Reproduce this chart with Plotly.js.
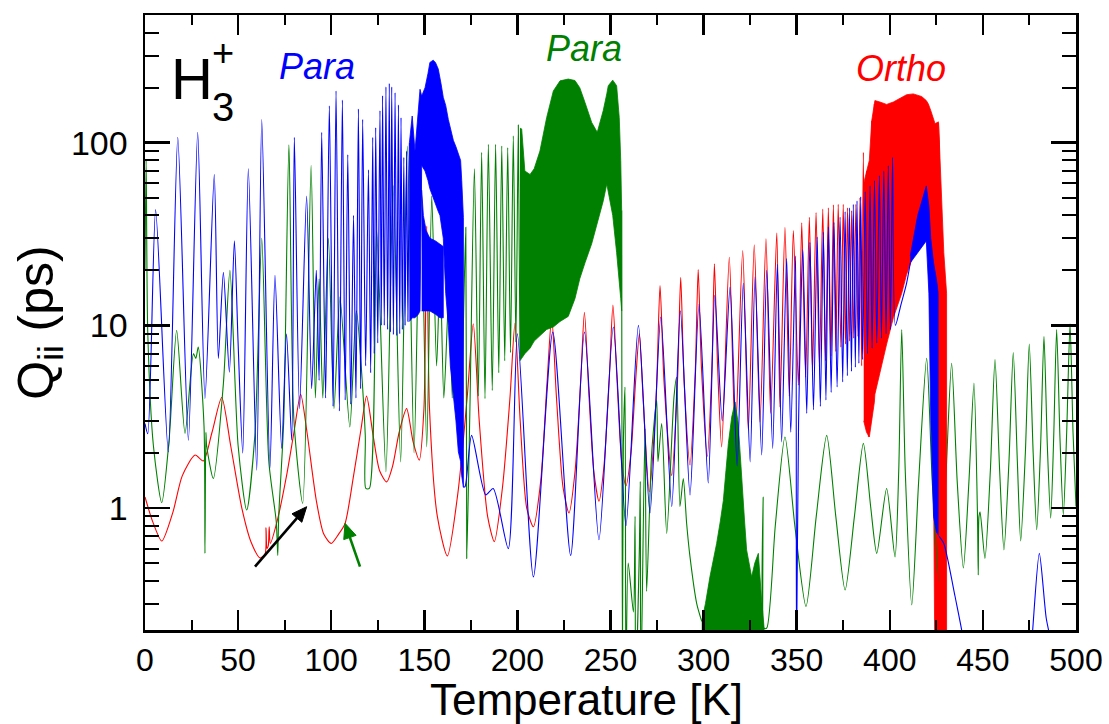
<!DOCTYPE html>
<html><head><meta charset="utf-8">
<script src="https://cdn.plot.ly/plotly-3.0.1.min.js"></script>
<style>html,body{margin:0;padding:0;background:#fff;} #chart{width:1109px;height:724px;}</style>
</head><body><div id="chart"></div>
<script>
// ---------- DATA (T in K, Q in ps) ----------
const redLine = [[0,1.15],[4,0.85],[9,0.66],[15,0.95],[20,1.5],[26.9,1.95],[31.3,1.81],[36,2.6],[41.2,4.03],[46,2.2],[52,1.0],[57,0.65],[61.8,0.533],[64.5,0.56],[65.0,0.78],[65.5,0.6],[66.2,0.62],[66.7,0.79],[67.3,0.64],[71,0.85],[76,1.5],[80,2.6],[83.6,4.2],[87,2.6],[92,1.1],[96,0.72],[100,0.64],[104,0.72],[107.4,0.82],[112,1.5],[116,2.7],[119,4.1],[122.5,2.5],[126,1.6],[129.8,1.39],[133,1.7],[136.5,2.6],[140.5,3.5],[144,2.3],[147.3,1.83],[149.8,3.5],[151.3,35],[152.8,3.5],[157,0.9],[162.4,0.547],[168,1.2],[173,4],[176.3,10.2],[179.5,3],[184,0.9],[187.6,0.655],[192,1.3],[196,4],[198.7,10.3],[201.5,3],[205,1.0],[208.6,0.79],[212.5,1.4],[216,5],[218.4,11.1],[221,4],[224.5,1.3],[227.7,0.94],[231,1.6],[234,5],[236,11.8],[238.5,4],[241,1.6],[243.8,1.09],[246.5,1.7],[249.3,5],[251.3,12.9],[253.5,5],[256,1.8],[258.3,1.32],[261,2],[263.5,5],[265.5,9],[267.5,4],[270.8,1.23],[274.5,4],[276.6,16.5],[278.7,5],[282.9,1.51],[286,5],[287.7,18.3],[289.5,5],[292.7,1.72],[295.5,5.5],[297.1,20.2],[298.8,6],[302,1.92],[304.5,6],[305.8,21.7],[307.5,6],[309.7,2.16],[313.8,23.6],[317,2.4],[321,25.7],[324,2.67],[327.2,27.6],[330.3,2.96],[333.5,29.8],[336,3.3],[339.3,32],[341,3.58],[343.7,34.4],[346,4.1],[348.2,33],[350.9,4.7],[352.7,36.4],[354.8,5.2],[356.8,39],[358.5,5.6],[360.4,41.5],[362.2,6.0],[364,43.3],[365.5,6.4],[367,44],[368.4,6.8],[369.7,45.7],[371,7.2],[372.3,46],[373.7,7.6],[375,46],[376.2,7.9],[377.3,44],[378.4,8.2],[379.5,42.5],[380.6,8.5],[381.8,46],[382.9,8.7],[384,50],[384.9,6],[385.8,88.6],[386.7,3.0],[387.5,70],[388.5,2.45],[389.4,80],[389.9,3],[390.3,132],[391,3.8],[391.7,163]];
// dense ortho band: [T, upper envelope, lower envelope]
const redBand = [[386,60,3.0],[387.5,70,2.6],[389,80,2.45],[390.3,132,3],[391.7,165,3.8],[392,170,4.2],[394.7,167,5.5],[398.3,162,7.9],[401.9,167,11],[406.4,178,15],[409,183,19],[412.6,185,24],[417.1,179,28],[419.6,170,30],[420.7,163,25],[422,150,8],[423.4,137,2],[424.3,127,0.1],[426.1,130,0.1],[426.6,98,0.1]];
const redEdge = [[426.2,128,0.1],[426.6,98,0.1],[427.3,76,0.1],[427.9,40,0.1],[429,25,0.1],[430.5,15,0.1]];

const greenLine1 = [[0,20],[0.6,80],[1.5,9],[4.5,2.2],[9,1.07],[13,2.4],[17,9.4],[21.5,2.56],[26,7.0],[27.3,6.6],[28.6,7.6],[31.7,2.8],[32.2,0.565],[32.7,2.6],[33.1,2.2],[36.7,1.45],[42.1,4.8],[45.6,20],[50,2.2],[54.6,0.975],[59,2.5],[62.7,30],[66.5,1.8],[70.5,0.84],[71.3,0.55],[71.8,0.9],[74.5,3],[77.3,97.5],[80,3],[84.7,1.06],[89.2,75],[91.5,4],[93.5,18],[95.5,4],[98.5,30],[101.5,3.5],[104.7,14.3],[110,2.78],[113.5,12],[118.3,2.5],[118.6,1.28],[120.5,1.28],[124.4,33],[129.4,1.58],[133.3,58],[137.3,1.79],[140.9,96],[144.5,2.0],[148,75],[151.3,2.16],[154,51],[156.6,6.0],[158.5,20],[160.5,4],[163.4,16.9],[165,4],[167,28.5],[169.5,3],[172.3,34.4],[172.8,0.53],[174.5,3.5],[176.9,72],[179,4.1],[180.8,88.5],[182.6,3.97],[184.4,98],[186.5,4.4],[188.3,98],[190,5.5],[191.6,96],[193.2,6.4],[194.8,94],[196.3,7.1],[197.8,109],[199.2,8.1],[200.5,125],[201.4,7]];
const greenBand = [[201.4,120,6.4],[202.3,119,6.6],[204,70,7],[206.8,67,7.5],[209,72,8.2],[212.1,90,8.8],[215.7,137,9.5],[219.3,192,9.8],[222.9,218,10.5],[227.3,223,11.2],[230.9,219,14],[233.5,200,18],[236.3,166,22],[239.9,129,28],[242.9,114,36],[246.1,150,48],[248,185,59.4],[248.8,205,55],[251.2,220,40],[253.3,205,25],[254.7,137,18],[255.5,80,14],[256,42.6,12]];
const greenLine2 = [[256,42.6],[256.4,0.1],[256.9,2.2],[257.8,4.6],[258.3,0.1],[259.5,0.5],[262.3,0.27],[263.2,0.9],[263.5,0.1],[265.5,0.6],[266,1.4],[266.3,0.1],[268.5,2.72],[269.4,0.35],[272.1,1.99],[274.8,3.9],[275.5,1.8],[277.5,2.9],[280.2,0.727],[284.1,4.06],[285.5,5.2],[287.3,1.02],[289.1,1.45],[290.9,0.82],[292.7,0.54],[296.3,0.30],[299,0.24]];
const greenBlob = [[299,0.24,0.1],[301,0.3,0.1],[303.4,0.42,0.1],[305,0.5,0.1],[307,0.64,0.1],[309,0.85,0.1],[310.6,1.1,0.1],[312,1.6,0.1],[313.3,2.26,0.1],[315.1,3.15,0.1],[316.9,3.81,0.1],[318.6,2.9,0.1],[320.4,1.42,0.1],[322,0.85,0.1],[323.1,0.59,0.1],[325.8,0.42,0.1],[327.5,0.5,0.1],[329.4,0.565,0.1],[331,0.33,0.1],[332.5,0.22,0.1]];
const greenLine3 = [[331.6,0.1],[332,1.15],[332.4,0.22],[333.9,0.22],[338.5,0.8],[343.7,2.45],[349,0.8],[355,0.289],[360.5,0.9],[366.1,2.5],[371,0.9],[376,0.356],[381,0.9],[385.8,2.26],[389.8,1.0],[393,0.565],[398.3,1.28],[402.8,0.54],[404.8,1.6],[406.4,9.5],[408.3,1.6],[411.8,0.295],[415.5,1.4],[419.8,6.6],[422.8,1.4],[426.6,0.39],[430,1.4],[433.2,6.2],[436.2,1.4],[439.5,0.47],[442.5,1.4],[445.2,4.83],[447.1,0.9],[447.5,0.43],[447.9,0.9],[448.5,0.95],[451.1,0.53],[454,1.6],[456.5,6.5],[459,1.6],[461.3,0.59],[464,1.8],[466.3,7.1],[468.5,1.8],[470.3,0.66],[472.8,2],[474.9,7.9],[477,2],[478.9,0.76],[481,2.2],[482.8,8.7],[484.6,2.2],[486.4,0.88],[488,2.4],[489.6,9.5],[491.4,2.4],[493.2,0.92],[495,2.6],[496.8,10.2],[498.4,2.6],[500,1.02]];

const blueLine1 = [[0,2.9],[1.5,2.55],[5.7,43],[12.5,2.03],[17.6,107],[23.3,2.35],[28.3,114],[32.2,3.98],[37.2,67],[39.4,6.6],[42.1,19.5],[45.3,5.55],[48,29],[50,8],[52.5,2.0],[55.5,72],[60,1.61],[62.7,134],[67.1,1.65],[69.8,18.8],[73.4,2.12],[76,9],[78.8,2.35],[80.2,107],[83,3.5],[86.8,51],[89.5,4.5],[92,20],[93.5,5],[94.9,114],[97,4.0],[99,159],[101,3.6],[102.6,192],[104.4,3.4],[106,171],[107.5,3.9],[108.9,86],[110.5,3.7],[112,40],[113.3,4.0],[114.6,153],[115.8,4.5],[116.9,134],[118.5,6],[120,71],[121.2,5.5],[122.3,107],[123.1,7],[123.9,121],[125,8],[126.2,150],[126.9,10],[127.6,181],[128.5,10],[129.4,202],[130.3,9.5],[131.2,211],[131.8,9.2],[132.5,202],[133.4,8.9],[134.3,188],[135.2,8.8],[136.1,161],[136.8,9],[137.5,137],[138.2,9.5],[139,83],[139.7,10],[140.5,90],[141.2,10.5],[142,100]];
// dense para band: [T, upper envelope, lower envelope (top of white notch)]
const blueBand1 = [[142,100,10.5],[143.5,140,11],[145,90,11],[146.8,155,11.5],[147.7,196,12],[148.6,180,75],[150.4,200,70],[152,240,62],[153,275,56],[154.8,283,50],[156,275,46],[157.5,253,42],[158.4,230,40],[159,210,36],[160.2,177,30],[161.5,160,15],[162.9,134,10],[164,120,6],[165.6,103,4],[167,95,3],[168.3,87,2.03],[169.5,80,1.8],[170.1,62,1.5],[171,39,1.3]];
// part of the band below the white notch
const blueBand1Low = [[148.6,55,12],[149.5,40,12],[151,33,12],[153,30,12],[156,29,11.5],[158.4,28,11],[160.2,27,11]];
const blueLine2 = [[171,1.3],[171.9,1.31],[175.4,2.5],[183,1.18],[187,1.28],[195.1,0.60],[200,9.0],[208.6,0.42],[219,9.2],[228.6,0.55],[236,9.2],[243.8,0.67],[251.5,9.8],[258.3,0.80],[265,10.0],[271.2,0.94],[277,11.1],[282.9,1.02],[287.5,12.0],[292.7,1.18],[297.5,13.0],[302.5,1.37],[306,14.6],[310,3.0],[314.2,16.2],[318,1.7],[321.3,17.0],[325,1.79],[327.6,18.4],[331.2,1.95],[333.9,20.0],[337.1,2.12],[339.6,21.6],[341.9,2.3],[344.6,23.2],[346.8,2.6],[349.4,24.0],[349.9,0.15],[351,2.9],[353.3,26.0],[355.4,3.3],[357.1,28.5],[359,3.45],[361,30.4],[362.7,3.6],[364.3,32.4],[365.7,3.9],[367,34.6],[368.5,4.3],[370,36.7],[371.7,4.6],[373.3,39.1],[374.7,4.9],[376,42.0],[377.2,5.3],[378.3,44.0],[379.4,5.6],[380.4,46.0],[381.5,5.9],[382.4,48.0],[383.4,6.2],[384.4,50.7],[385.4,6.5],[386.8,54.0],[388,7.0],[389.4,58.0],[390.5,7.5],[391.8,62.0],[393,8.0],[394.4,66.0],[395.5,8.5],[396.8,70.0],[398,9.0],[399.2,75.0],[400.3,9.5],[401.5,83.0],[403,10],[406,13],[409,17],[411,22]];
const blueBand2 = [[411,24,22],[415,40,25],[419.6,58,29],[421,45,15],[422,30,3],[423.5,22,0.9],[425,18,0.74],[426.5,14,0.7]];
const blueTail = [[426.5,0.7],[429,0.64],[431,0.53],[435,0.33],[438.6,0.215],[441,0.15],[474,0.1],[476.5,0.2],[480.3,0.565],[484,0.25],[486.8,0.18],[490,0.1]];

const xTicks = [0,50,100,150,200,250,300,350,400,450,500];
const yTicks = [1,10,100];
const yTickText = ['1','10','100'];
const yMinor = [0.3,0.4,0.5,0.6,0.7,0.8,0.9,2,3,4,5,6,7,8,9,20,30,40,50,60,70,80,90,200,300,400];

// ---------- BUILD ----------
const RED='#ff0000', GREEN='#008000', BLUE='#0000ff';
const FONT='Liberation Sans, Arial, Helvetica, sans-serif';
function line(pts,color,w){return {type:'scatter',mode:'lines',x:pts.map(p=>p[0]),y:pts.map(p=>p[1]),line:{color:color,width:w||1.1,shape:'spline',smoothing:0.7},hoverinfo:'skip',showlegend:false};}
function band(tr,color){const xs=tr.map(r=>r[0]);return {type:'scatter',mode:'lines',x:xs.concat(xs.slice().reverse()),y:tr.map(r=>r[1]).concat(tr.map(r=>r[2]).reverse()),fill:'toself',fillcolor:color,line:{color:color,width:0.8},hoverinfo:'skip',showlegend:false};}

const traces=[
  band(redBand,RED), line(redLine,RED),
  band(greenBand,GREEN), band(greenBlob,GREEN), line(greenLine1,GREEN), line(greenLine2,GREEN), line(greenLine3,GREEN),
  band(blueBand1,BLUE), band(blueBand1Low,BLUE), band(blueBand2,BLUE), line(blueLine1,BLUE), line(blueLine2,BLUE),
  band(redEdge,RED), line(blueTail,BLUE)
];

const L=145,R=1076,T=15,B=630,W=R-L,H=B-T;
const px=x=>(x-L)/W, py=y=>(B-y)/H;
function txt(t,x,y,size,color,italic,extra){return Object.assign({text:t,xref:'paper',yref:'paper',x:px(x),y:py(y),xanchor:'center',yanchor:'middle',showarrow:false,font:{family:FONT,size:size,color:color,style:italic?'italic':'normal'}},extra||{});}

// arrow (annotation graphic) from tail to tip, in pixel positions of the figure
function arrow(tail,tip,color){
  const dx=tip[0]-tail[0], dy=tip[1]-tail[1], len=Math.hypot(dx,dy), ux=dx/len, uy=dy/len;
  const hl=15, hw=6.5, bx=tip[0]-hl*ux, by=tip[1]-hl*uy, nx=-uy, ny=ux;
  return [
    {type:'line',xref:'paper',yref:'paper',x0:px(tail[0]),y0:py(tail[1]),x1:px(bx+2*ux),y1:py(by+2*uy),line:{color:color,width:2.6}},
    {type:'path',xref:'paper',yref:'paper',path:'M '+px(tip[0])+' '+py(tip[1])+' L '+px(bx+hw*nx)+' '+py(by+hw*ny)+' L '+px(bx-hw*nx)+' '+py(by-hw*ny)+' Z',fillcolor:color,line:{color:color,width:1}}
  ];
}
const shapes=[].concat(arrow([255,566.7],[306.7,506.7],'#000'), arrow([360,566.7],[345,523.3],GREEN));

const annotations=[
  txt('H',191.7,78.3,58,'#000',false),
  txt('+',222.5,53.3,38,'#000',false),
  txt('3',222.5,107,40,'#000',false),
  txt('Para',316.5,66.7,36,BLUE,true),
  txt('Para',584,48.3,36,GREEN,true),
  txt('Ortho',900.8,68.3,36,RED,true),
  txt('Temperature [K]',586,699,44,'#000',false)
];

const layout={
  width:1109,height:724,margin:{l:L,r:1109-R,t:T,b:724-B},
  paper_bgcolor:'#fff',plot_bgcolor:'#fff',showlegend:false,
  font:{family:FONT,color:'#000'},
  xaxis:{range:[0,500],tickmode:'array',tickvals:xTicks,ticks:'inside',ticklen:20,tickwidth:2.5,tickcolor:'#000',
    minor:{dtick:25,tick0:0,ticks:'inside',ticklen:10,tickwidth:2,tickcolor:'#000'},
    showline:true,linecolor:'#000',linewidth:2.5,mirror:'allticks',showgrid:false,zeroline:false,
    tickfont:{family:FONT,size:32,color:'#000'},ticklabelstandoff:0},
  yaxis:{type:'log',range:[Math.log10(0.215),Math.log10(500)],tickmode:'array',tickvals:yTicks,ticktext:yTickText,
    ticks:'inside',ticklen:25,tickwidth:2.5,tickcolor:'#000',
    minor:{tickmode:'array',tickvals:yMinor,ticks:'inside',ticklen:14,tickwidth:2,tickcolor:'#000'},
    showline:true,linecolor:'#000',linewidth:2.5,mirror:'allticks',showgrid:false,zeroline:false,
    tickfont:{family:FONT,size:34,color:'#000'},ticklabelstandoff:8,
    title:{text:'Q<sub>ii</sub> (ps)',font:{family:FONT,size:50,color:'#000'},standoff:2},automargin:false},
  shapes:shapes,
  annotations:annotations
};
Plotly.newPlot('chart',traces,layout,{staticPlot:true,displayModeBar:false});
</script></body></html>
